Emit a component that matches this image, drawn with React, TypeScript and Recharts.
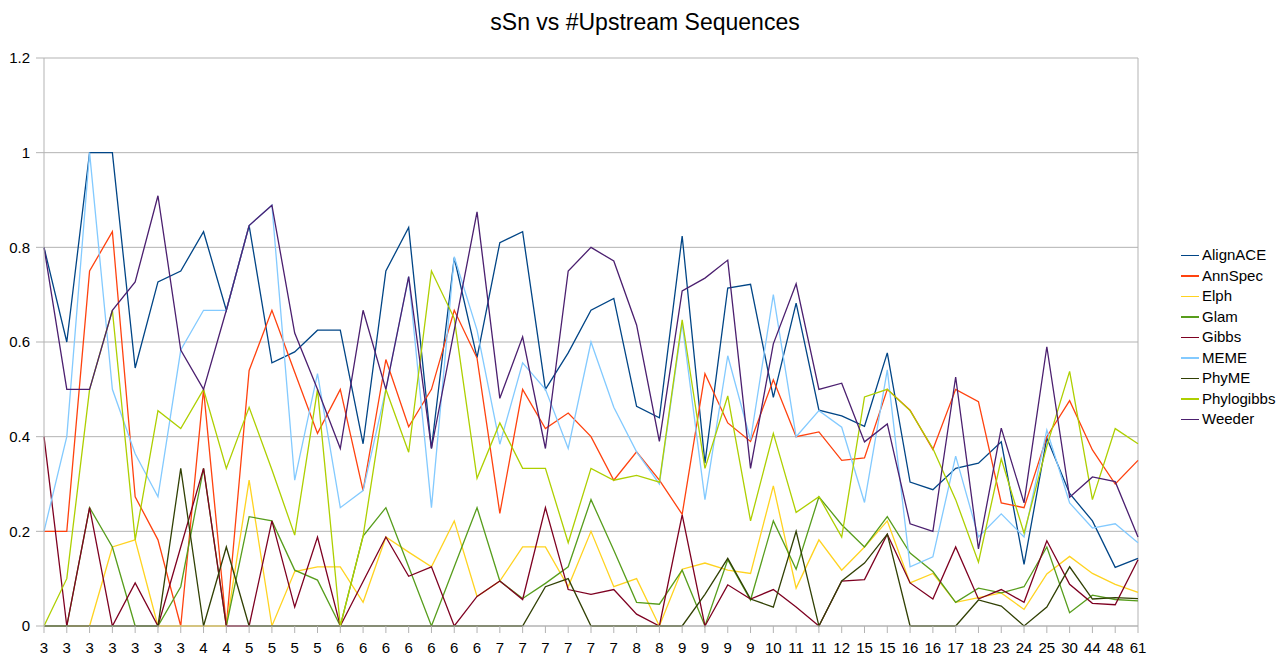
import React from 'react';
import { LineChart, Line, XAxis, YAxis, CartesianGrid, ReferenceLine } from 'recharts';

const CATEGORIES = ['3','3','3','3','3','3','3','4','4','5','5','5','5','6','6','6','6','6','6','6','7','7','7','7','7','7','8','8','9','9','9','9','10','11','11','12','15','15','16','16','17','18','23','24','25','30','44','48','61'];

const Y_TICKS = [0, 0.2, 0.4, 0.6, 0.8, 1, 1.2];

const alignACE = [0.8, 0.6, 1, 1, 0.545, 0.727, 0.75, 0.833, 0.667, 0.846, 0.556, 0.579, 0.625, 0.625, 0.385, 0.75, 0.842, 0.375, 0.778, 0.567, 0.81, 0.833, 0.5, 0.577, 0.667, 0.692, 0.464, 0.44, 0.824, 0.344, 0.714, 0.722, 0.483, 0.682, 0.456, 0.444, 0.422, 0.577, 0.304, 0.288, 0.333, 0.344, 0.389, 0.13, 0.397, 0.28, 0.222, 0.124, 0.143];
const annSpec = [0.2, 0.2, 0.75, 0.833, 0.273, 0.182, 0, 0.5, 0, 0.54, 0.667, 0.536, 0.407, 0.5, 0.286, 0.563, 0.421, 0.5, 0.667, 0.566, 0.238, 0.5, 0.417, 0.45, 0.4, 0.308, 0.368, 0.308, 0.236, 0.533, 0.429, 0.39, 0.52, 0.4, 0.41, 0.35, 0.355, 0.5, 0.456, 0.373, 0.5, 0.474, 0.26, 0.25, 0.4, 0.476, 0.372, 0.3, 0.35];
const elph = [0, 0, 0, 0.167, 0.182, 0, 0, 0, 0, 0.308, 0, 0.115, 0.125, 0.125, 0.05, 0.188, 0.156, 0.125, 0.222, 0.0625, 0.095, 0.167, 0.167, 0.083, 0.2, 0.083, 0.1, 0, 0.12, 0.133, 0.118, 0.111, 0.296, 0.08, 0.182, 0.118, 0.167, 0.222, 0.091, 0.111, 0.05, 0.06, 0.07, 0.035, 0.11, 0.147, 0.111, 0.088, 0.071];
const glam = [0, 0, 0.25, 0.167, 0, 0, 0.083, 0.333, 0, 0.231, 0.222, 0.118, 0.097, 0, 0.19, 0.25, 0.125, 0, 0.125, 0.25, 0.095, 0.058, 0.09, 0.125, 0.267, 0.16, 0.05, 0.046, 0.118, 0, 0.14, 0.055, 0.222, 0.12, 0.273, 0.214, 0.167, 0.231, 0.154, 0.115, 0.05, 0.08, 0.07, 0.083, 0.167, 0.028, 0.065, 0.056, 0.053];
const gibbs = [0.4, 0, 0.25, 0, 0.091, 0, 0.167, 0.333, 0, 0, 0.222, 0.04, 0.188, 0, 0.094, 0.188, 0.105, 0.125, 0, 0.0625, 0.095, 0.056, 0.25, 0.077, 0.067, 0.077, 0.025, 0, 0.235, 0, 0.087, 0.057, 0.077, 0.04, 0, 0.095, 0.098, 0.194, 0.091, 0.057, 0.167, 0.057, 0.077, 0.05, 0.18, 0.088, 0.048, 0.045, 0.14];
const meme = [0.2, 0.4, 1, 0.5, 0.364, 0.273, 0.583, 0.667, 0.667, 0.846, 0.889, 0.308, 0.533, 0.25, 0.286, 0.5, 0.738, 0.25, 0.78, 0.625, 0.384, 0.556, 0.5, 0.375, 0.6, 0.462, 0.368, 0.3, 0.64, 0.267, 0.571, 0.393, 0.7, 0.4, 0.455, 0.42, 0.261, 0.541, 0.125, 0.146, 0.359, 0.188, 0.237, 0.188, 0.414, 0.26, 0.207, 0.216, 0.176];
const phyME = [0, 0, 0, 0, 0, 0, 0.333, 0, 0.167, 0, 0, 0, 0, 0, 0, 0, 0, 0, 0, 0, 0, 0, 0.083, 0.1, 0, 0, 0, 0, 0, 0.067, 0.143, 0.057, 0.04, 0.2, 0, 0.095, 0.133, 0.194, 0, 0, 0, 0.055, 0.042, 0, 0.04, 0.125, 0.057, 0.06, 0.058];
const phylogibbs = [0, 0.1, 0.5, 0.667, 0.182, 0.455, 0.417, 0.5, 0.333, 0.462, 0.33, 0.192, 0.5, 0, 0.19, 0.5, 0.367, 0.75, 0.65, 0.312, 0.429, 0.333, 0.333, 0.176, 0.333, 0.308, 0.318, 0.304, 0.647, 0.333, 0.486, 0.222, 0.407, 0.24, 0.273, 0.188, 0.484, 0.5, 0.455, 0.375, 0.267, 0.135, 0.353, 0.196, 0.38, 0.538, 0.267, 0.417, 0.385];
const weeder = [0.8, 0.5, 0.5, 0.667, 0.727, 0.909, 0.583, 0.5, 0.667, 0.846, 0.889, 0.619, 0.5, 0.375, 0.667, 0.5, 0.738, 0.375, 0.625, 0.875, 0.481, 0.611, 0.375, 0.75, 0.8, 0.771, 0.636, 0.39, 0.708, 0.735, 0.773, 0.333, 0.596, 0.723, 0.5, 0.513, 0.389, 0.427, 0.216, 0.2, 0.526, 0.163, 0.418, 0.26, 0.59, 0.272, 0.315, 0.305, 0.188];

const SERIES = [
  { name: 'AlignACE', values: alignACE, color: '#004586' },
  { name: 'AnnSpec', values: annSpec, color: '#ff420e' },
  { name: 'Elph', values: elph, color: '#ffd320' },
  { name: 'Glam', values: glam, color: '#579d1c' },
  { name: 'Gibbs', values: gibbs, color: '#7e0021' },
  { name: 'MEME', values: meme, color: '#83caff' },
  { name: 'PhyME', values: phyME, color: '#314004' },
  { name: 'Phylogibbs', values: phylogibbs, color: '#aecf00' },
  { name: 'Weeder', values: weeder, color: '#4b1f6f' },
];

const IDX = CATEGORIES.map((_, i) => i);
const DATA = CATEGORIES.map((c, i) => {
  const row: Record<string, number | string> = { idx: i, cat: c };
  SERIES.forEach((s) => { row[s.name] = s.values[i]; });
  return row;
});

const FONT = '"Liberation Sans", Arial, sans-serif';
const GRID = '#b3b3b3';

export default function App() {
  return (
    <div style={{ position: 'relative', width: 1270, height: 652, background: '#fff' }}>
      <div style={{ position: 'absolute', left: 0, top: 0, width: 1274, textAlign: 'center', fontFamily: FONT, fontSize: 23, lineHeight: '28px', color: '#000' }}>
        sSn vs #Upstream Sequences
      </div>
      <LineChart width={1270} height={652} data={DATA} margin={{ top: 50, right: 140, left: 0, bottom: 4 }}>
        <CartesianGrid horizontal vertical={false} stroke={GRID} />
        <XAxis
          dataKey="idx"
          type="number"
          domain={[0, 48]}
          ticks={IDX}
          interval={0}
          tickFormatter={(i: number) => CATEGORIES[i]}
          tick={{ fontSize: 15, fill: '#000', fontFamily: FONT }}
          tickLine={{ stroke: GRID }}
          axisLine={{ stroke: GRID }}
          tickSize={7}
          tickMargin={9}
          height={30}
        />
        <YAxis
          type="number"
          domain={[0, 1.2]}
          ticks={Y_TICKS}
          interval={0}
          tickFormatter={(v: number) => String(v)}
          tick={{ fontSize: 15, fill: '#000', fontFamily: FONT }}
          tickLine={{ stroke: GRID }}
          axisLine={{ stroke: GRID }}
          tickSize={8}
          tickMargin={6}
          width={36}
        />
        <ReferenceLine x={48} stroke={GRID} />
        {SERIES.map((s) => (
          <Line key={s.name} type="linear" dataKey={s.name} stroke={s.color} strokeWidth={1.3} dot={false} activeDot={false} isAnimationActive={false} />
        ))}
      </LineChart>
      <div style={{ position: 'absolute', left: 1173, top: 237, fontFamily: FONT, fontSize: 15, color: '#000' }}>
        {SERIES.map((s) => (
          <div key={s.name} style={{ display: 'flex', alignItems: 'center', height: 20.5 }}>
            <div style={{ width: 18, height: 1.5, background: s.color, marginRight: 3 }} />
            <span style={{ lineHeight: '20px', whiteSpace: 'nowrap' }}>{s.name}</span>
          </div>
        ))}
      </div>
    </div>
  );
}
